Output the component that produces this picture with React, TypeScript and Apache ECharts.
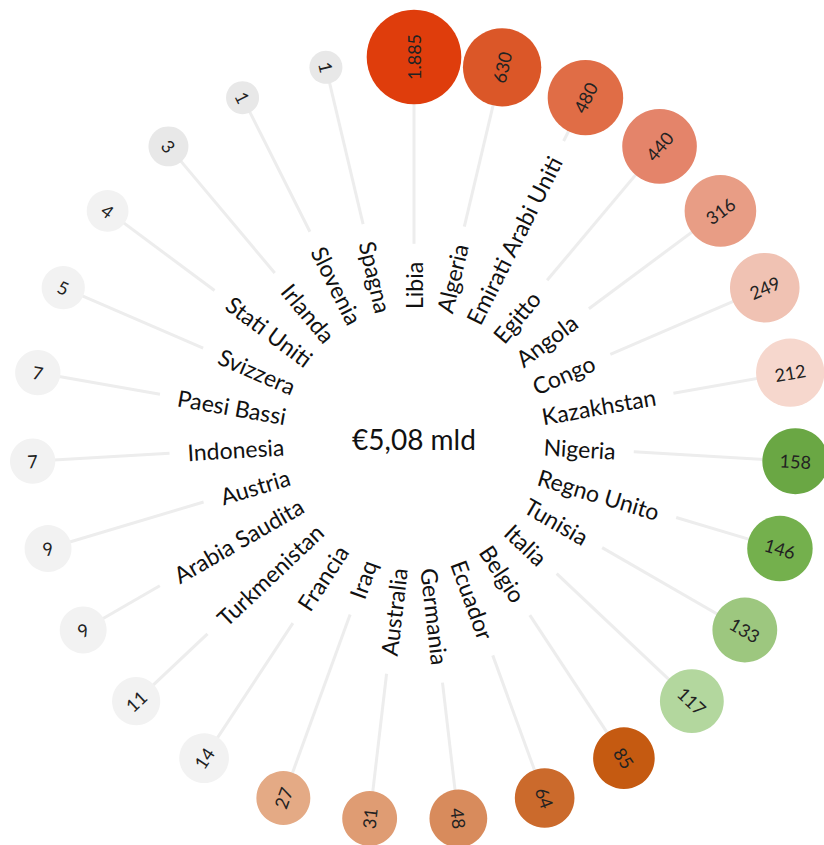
import React, { useEffect, useRef } from 'react';
import * as echarts from 'echarts';

const countries = [
  'Libia', 'Algeria', 'Emirati Arabi Uniti', 'Egitto', 'Angola', 'Congo', 'Kazakhstan',
  'Nigeria', 'Regno Unito', 'Tunisia', 'Italia', 'Belgio', 'Ecuador', 'Germania',
  'Australia', 'Iraq', 'Francia', 'Turkmenistan', 'Arabia Saudita', 'Austria',
  'Indonesia', 'Paesi Bassi', 'Svizzera', 'Stati Uniti', 'Irlanda', 'Slovenia', 'Spagna',
];
const values = [
  1885, 630, 480, 440, 316, 249, 212, 158, 146, 133, 117, 85, 64, 48,
  31, 27, 14, 11, 9, 9, 7, 7, 5, 4, 3, 1, 1,
];
const palette = [
  '#DF3D0C', '#DB5728', '#E06D46', '#E4846A', '#E89D85', '#F0C2B3', '#F6D7CD',
  '#6AA744', '#74B04D', '#9DC77F', '#B3D79E', '#C55A11', '#CB6A2C', '#D88B5C',
  '#DF9C73', '#E4AA85', '#F2F2F2', '#F2F2F2', '#F2F2F2', '#F2F2F2', '#F2F2F2',
  '#F2F2F2', '#F2F2F2', '#F2F2F2', '#E8E8E8', '#E8E8E8', '#E8E8E8',
];
const totalLabel = '€5,08 mld';

const FONT_FAMILY = 'Lato, "Noto Sans", sans-serif';
const LABEL_FONT = `23px ${FONT_FAMILY}`;
const NUM_FONT = `18px ${FONT_FAMILY}`;
const RING = 1;
const LABEL_R = 130 / 382;

function fmt(v: number): string {
  return String(v).replace(/\B(?=(\d{3})+(?!\d))/g, '.');
}

let measureCtx: CanvasRenderingContext2D | null = null;
function measure(text: string, font: string): number {
  if (!measureCtx) {
    const c = document.createElement('canvas');
    measureCtx = c.getContext('2d');
  }
  if (!measureCtx) return text.length * 10;
  measureCtx.font = font;
  return measureCtx.measureText(text).width;
}

function sizeOf(v: number): number {
  return 33 + 14.5 * Math.log10(v) + 0.0075 * v;
}

export default function App() {
  const ref = useRef<HTMLDivElement>(null);
  useEffect(() => {
    if (!ref.current) return;
    const chart = echarts.init(ref.current, undefined, { renderer: 'svg' });
    const N = countries.length;
    const step = 360 / N;
    chart.setOption({
      animation: false,
      backgroundColor: '#ffffff',
      polar: { center: [414, 439], radius: [0, 382] },
      angleAxis: {
        type: 'category',
        data: countries,
        startAngle: 90 + step / 2,
        boundaryGap: true,
        clockwise: true,
        axisLine: { show: false },
        axisTick: { show: false },
        axisLabel: { show: false },
        splitLine: { show: false },
      },
      radiusAxis: {
        type: 'value',
        min: 0,
        max: 1,
        axisLine: { show: false },
        axisTick: { show: false },
        axisLabel: { show: false },
        splitLine: { show: false },
      },
      graphic: [
        {
          type: 'text',
          x: 414,
          y: 439,
          z: 10,
          style: {
            text: totalLabel,
            font: `28px ${FONT_FAMILY}`,
            fill: '#111',
            align: 'center',
            verticalAlign: 'middle',
          },
        },
      ],
      series: [
        {
          type: 'custom',
          coordinateSystem: 'polar',
          data: values.map((v, i) => [RING, i, v]),
          encode: { radius: 0, angle: 1 },
          renderItem: (params: any, api: any) => {
            const i = api.value(1);
            const v = api.value(2);
            const c = api.coord([0, i]);
            const cx = c[0];
            const cy = c[1];
            const p = api.coord([RING, i]);
            const pIn = api.coord([LABEL_R, i]);
            const dx = p[0] - cx;
            const dy = p[1] - cy;
            const d = Math.hypot(dx, dy);
            const ux = dx / d;
            const uy = dy / d;
            const phi = Math.atan2(-dy, dx);
            const right = ux > -1e-3;
            const rot = right ? phi : phi + Math.PI;
            const rIn = Math.hypot(pIn[0] - cx, pIn[1] - cy);
            const name = countries[i];
            const w = measure(name, LABEL_FONT);
            const rLine = rIn + w + 18;
            const size = sizeOf(v);
            return {
              type: 'group',
              children: [
                {
                  type: 'line',
                  shape: { x1: cx + ux * rLine, y1: cy + uy * rLine, x2: p[0], y2: p[1] },
                  style: { stroke: '#EDEDED', lineWidth: 3 },
                },
                {
                  type: 'circle',
                  shape: { cx: p[0], cy: p[1], r: size / 2 },
                  style: { fill: palette[i] },
                },
                {
                  type: 'text',
                  x: p[0],
                  y: p[1],
                  rotation: rot,
                  style: {
                    text: fmt(v),
                    font: NUM_FONT,
                    fill: '#222',
                    align: 'center',
                    verticalAlign: 'middle',
                  },
                },
                {
                  type: 'text',
                  x: pIn[0],
                  y: pIn[1],
                  rotation: rot,
                  style: {
                    text: name,
                    font: LABEL_FONT,
                    fill: '#111',
                    align: right ? 'left' : 'right',
                    verticalAlign: 'middle',
                  },
                },
              ],
            };
          },
        },
      ],
    });
    return () => chart.dispose();
  }, []);
  return (
    <div
      ref={ref}
      style={{ position: 'fixed', left: 0, top: 0, width: 824, height: 845 }}
    />
  );
}
